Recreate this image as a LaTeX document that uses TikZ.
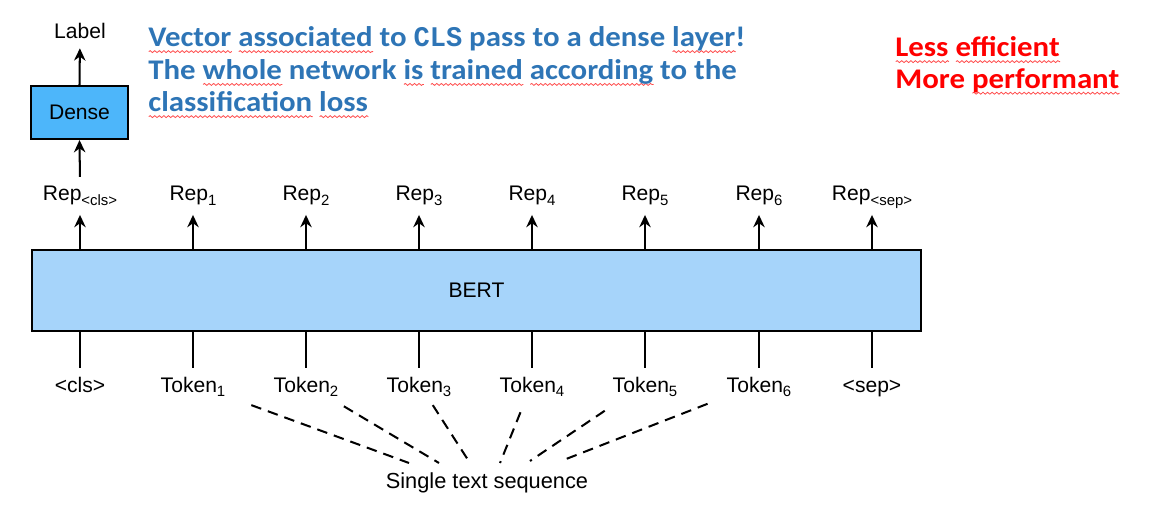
\documentclass[tikz,border=0pt]{standalone}
\usepackage{fontspec}
\setmainfont{Liberation Sans}
\newfontfamily\hfont[FakeStretch=1.084]{Carlito}
\newfontfamily\mfont[FakeStretch=0.95]{Liberation Mono}
\usetikzlibrary{arrows.meta,calc,decorations.pathmorphing}
\definecolor{bertfill}{HTML}{A6D4FA}
\definecolor{densefill}{HTML}{4DB6FA}
\definecolor{noteblue}{HTML}{2E75B6}
\definecolor{notered}{HTML}{FF0000}
\definecolor{squig}{HTML}{FF4A4A}
\newsavebox\sqbox
\newlength\sqlen
\newcommand\sq[1]{\sbox\sqbox{#1}\setlength\sqlen{\wd\sqbox}\rlap{\raisebox{-2.8pt}[0pt][0pt]{\tikz[x=1pt,y=1pt,baseline=0pt]\draw[squig,line width=0.45pt,decorate,decoration={snake,amplitude=0.55pt,segment length=2.6pt}] (0,0) -- (\sqlen,0);}}\usebox\sqbox}
\newcommand\sbx[1]{\raisebox{-2.5pt}{\fontsize{8.5}{10}\selectfont #1}}
\begin{document}
\begin{tikzpicture}[x=0.02cm,y=-0.02cm,
  lbl/.style={inner sep=0pt, font=\fontsize{12}{14}\selectfont, text height=10pt, text depth=0pt, anchor=base},
  netbox/.style={draw=black, line width=1.2pt, inner sep=0pt, font=\fontsize{12}{14}\selectfont},
  upar/.style={line width=1.15pt, -{Stealth[length=7pt,width=6.5pt]}},
  inline/.style={line width=1.15pt},
  seqline/.style={line width=1.15pt, dash pattern=on 6pt off 4pt},
  note/.style={anchor=base west, inner sep=0pt, font=\hfont\bfseries\fontsize{16.2}{18}\selectfont, text=noteblue},
  redn/.style={anchor=base west, inner sep=0pt, font=\hfont\bfseries\fontsize{16.2}{18}\selectfont, text=notered}]
\useasboundingbox (0,0) rectangle (1160,511);

% network boxes
\node[netbox, fill=bertfill, minimum width=17.78cm, minimum height=1.62cm] (bert) at (476.5,290.5) {BERT};
\node[netbox, fill=densefill, minimum width=1.94cm, minimum height=1.06cm] (dense) at (79.5,112.5) {Dense};
\node[lbl] (label) at (80,38.3) {Label};

% representations
\node[lbl] (r0) at (80,200.7) {Rep\sbx{<cls>}};
\node[lbl] (r1) at (193,200.7) {Rep\sbx{1}};
\node[lbl] (r2) at (306,200.7) {Rep\sbx{2}};
\node[lbl] (r3) at (419,200.7) {Rep\sbx{3}};
\node[lbl] (r4) at (532,200.7) {Rep\sbx{4}};
\node[lbl] (r5) at (645,200.7) {Rep\sbx{5}};
\node[lbl] (r6) at (759,200.7) {Rep\sbx{6}};
\node[lbl] (r7) at (872,200.7) {Rep\sbx{<sep>}};

% tokens
\node[lbl] (t0) at (80,392.5) {<cls>};
\node[lbl] (t1) at (193,392.5) {Token\sbx{1}};
\node[lbl] (t2) at (306,392.5) {Token\sbx{2}};
\node[lbl] (t3) at (419,392.5) {Token\sbx{3}};
\node[lbl] (t4) at (532,392.5) {Token\sbx{4}};
\node[lbl] (t5) at (645,392.5) {Token\sbx{5}};
\node[lbl] (t6) at (759,392.5) {Token\sbx{6}};
\node[lbl] (t7) at (872,392.5) {<sep>};

\node[lbl, font=\fontsize{12.4}{14}\selectfont] (seq) at (487,488) {Single text sequence};

% arrows out of BERT
\foreach \i in {0,...,7}{
  \draw[upar, shorten >=7.9pt] (bert.north -| r\i) -- (r\i.south);
  \draw[inline, shorten >=4pt] (bert.south -| t\i) -- (t\i.north);
}
\draw[upar, shorten <=3.4pt] (r0.north) -- (dense.south);
\draw[upar, shorten >=5.5pt] (dense.north) -- (label.south);

% dashed links to the sequence
\coordinate (e1) at ($(seq.base)+(-78,-25)$);
\coordinate (e2) at ($(seq.base)+(-48,-25)$);
\coordinate (e3) at ($(seq.base)+(-17,-25)$);
\coordinate (e4) at ($(seq.base)+(13,-25)$);
\coordinate (e5) at ($(seq.base)+(43,-27)$);
\coordinate (e6) at ($(seq.base)+(74,-27)$);
\draw[seqline] ($(t1.center)!0.27!(e1)$) -- (e1);
\draw[seqline] ($(t2.center)!0.285!(e2)$) -- (e2);
\draw[seqline] ($(t3.center)!0.27!(e3)$) -- (e3);
\draw[seqline] ($(t4.center)!0.36!(e4)$) -- (e4);
\draw[seqline] ($(t5.center)!0.35!(e5)$) -- (e5);
\draw[seqline] ($(t6.center)!0.26!(e6)$) -- (e6);

% notes
\node[note] (n1) at (148,46.7) {\sq{Vector} \sq{associated} to {\mfont CLS} pass to a dense \sq{layer}!};
\node[note] (n2) at (148,79.5) {The \sq{whole} network \sq{is} \sq{trained} \sq{according} to the};
\node[note] (n3) at (148,111.7) {\sq{classification} \sq{loss}};
\node[redn] (l1) at (895,56.7) {\sq{Less} \sq{efficient}};
\node[redn] (l2) at (895,88.3) {More \sq{performant}};
\end{tikzpicture}
\end{document}
